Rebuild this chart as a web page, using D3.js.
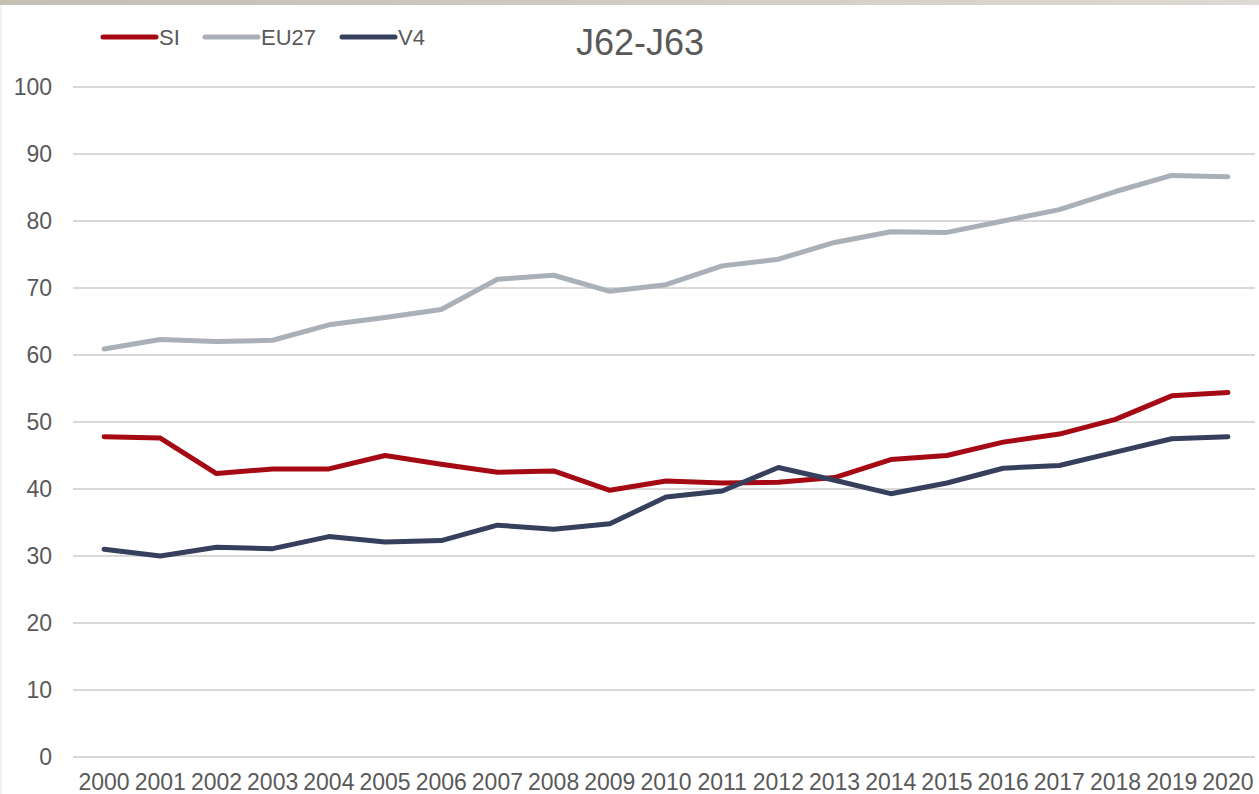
<!DOCTYPE html>
<html>
<head>
<meta charset="utf-8">
<script src="https://cdn.jsdelivr.net/npm/d3@7/dist/d3.min.js"></script>
<style>
  html, body { margin: 0; padding: 0; background: #fff; }
  svg { display: block; font-family: "Liberation Sans", Arial, sans-serif; }
  .tick-label { fill: #595959; font-size: 23px; }
  .legend-label { fill: #595959; font-size: 22px; }
  .title { fill: #595959; font-size: 36px; }
  .grid { stroke: #d9d9d9; stroke-width: 2; }
  .series { fill: none; stroke-width: 5; stroke-linejoin: round; stroke-linecap: round; }
</style>
</head>
<body>
<svg id="chart"></svg>
<script>
(function() {
    var years = ["2000","2001","2002","2003","2004","2005","2006","2007","2008","2009","2010",
                 "2011","2012","2013","2014","2015","2016","2017","2018","2019","2020"];
    var yTicks = [0, 10, 20, 30, 40, 50, 60, 70, 80, 90, 100];

    var siValues   = [47.8, 47.6, 42.3, 43.0, 43.0, 45.0, 43.7, 42.5, 42.7, 39.8, 41.2,
                      40.9, 41.0, 41.7, 44.4, 45.0, 47.0, 48.2, 50.4, 53.9, 54.4];
    var eu27Values = [60.9, 62.3, 62.0, 62.2, 64.5, 65.6, 66.8, 71.3, 71.9, 69.5, 70.5,
                      73.3, 74.3, 76.8, 78.4, 78.3, 80.0, 81.7, 84.4, 86.8, 86.6];
    var v4Values   = [31.0, 30.0, 31.3, 31.1, 32.9, 32.1, 32.3, 34.6, 34.0, 34.8, 38.8,
                      39.7, 43.2, 41.3, 39.3, 40.9, 43.1, 43.5, 45.5, 47.5, 47.8];

    var seriesNames = ["SI", "EU27", "V4"];
    var seriesColors = ["#a50a14", "#a9b0b7", "#363f5c"];

    var width = 1259, height = 794;
    var svg = d3.select("#chart").attr("width", width).attr("height", height);

    // top frame strip
    var grad = svg.append("defs").append("linearGradient").attr("id", "topbar");
    grad.append("stop").attr("offset", "0%").attr("stop-color", "#c4beb3");
    grad.append("stop").attr("offset", "100%").attr("stop-color", "#dddad3");
    svg.append("rect").attr("x", 0).attr("y", 0).attr("width", width).attr("height", 5)
        .attr("fill", "url(#topbar)");
    svg.append("line").attr("x1", 1).attr("x2", 1).attr("y1", 5).attr("y2", height)
        .attr("stroke", "#eeeeee").attr("stroke-width", 1.5);

    var x = d3.scaleBand().domain(years).range([76, 1256]);
    var y = d3.scaleLinear().domain([0, 100]).range([757, 87]);

    // grid lines
    svg.append("g").selectAll("line")
        .data(yTicks)
        .enter()
        .append("line")
        .attr("class", "grid")
        .attr("x1", 73)
        .attr("x2", 1255)
        .attr("y1", function(d) { return y(d); })
        .attr("y2", function(d) { return y(d); });

    // y labels
    svg.append("g").selectAll("text")
        .data(yTicks)
        .enter()
        .append("text")
        .attr("class", "tick-label")
        .attr("text-anchor", "end")
        .attr("dominant-baseline", "central")
        .attr("x", 52)
        .attr("y", function(d) { return y(d); })
        .text(function(d) { return d; });

    // x labels
    svg.append("g").selectAll("text")
        .data(years)
        .enter()
        .append("text")
        .attr("class", "tick-label")
        .attr("text-anchor", "middle")
        .attr("dominant-baseline", "central")
        .attr("x", function(d) { return x(d) + x.bandwidth() / 2; })
        .attr("y", 782)
        .text(function(d) { return d; });

    var line = d3.line()
        .x(function(d, i) { return x(years[i]) + x.bandwidth() / 2; })
        .y(function(d) { return y(d); });

    var allSeries = [siValues, eu27Values, v4Values];
    // draw order: EU27, SI, V4 on top
    [1, 0, 2].forEach(function(k) {
        svg.append("path")
            .datum(allSeries[k])
            .attr("class", "series")
            .attr("stroke", seriesColors[k])
            .attr("d", line);
    });

    // legend
    var legendX = [103, 205, 342];
    var legend = svg.append("g");
    seriesNames.forEach(function(name, i) {
        legend.append("line")
            .attr("x1", legendX[i]).attr("x2", legendX[i] + 53)
            .attr("y1", 37).attr("y2", 37)
            .attr("stroke", seriesColors[i])
            .attr("stroke-width", 5)
            .attr("stroke-linecap", "round");
        legend.append("text")
            .attr("class", "legend-label")
            .attr("x", legendX[i] + 56)
            .attr("y", 37)
            .attr("dominant-baseline", "central")
            .text(name);
    });

    svg.append("text")
        .attr("class", "title")
        .attr("x", 640)
        .attr("y", 42)
        .attr("text-anchor", "middle")
        .attr("dominant-baseline", "central")
        .text("J62-J63");
})();
</script>
</body>
</html>
